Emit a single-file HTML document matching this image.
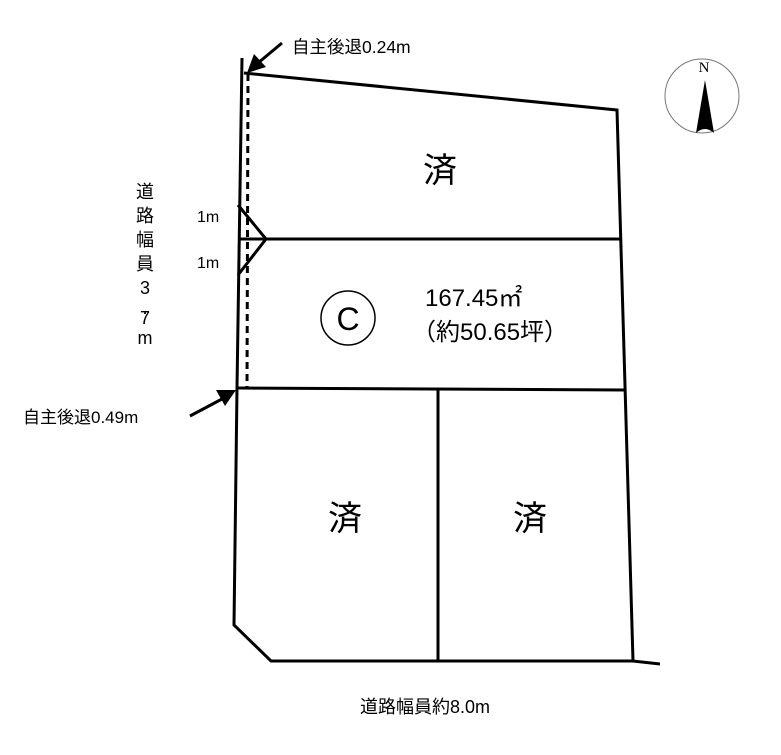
<!DOCTYPE html>
<html><head><meta charset="utf-8"><style>
body{margin:0;background:#fff;}
svg text{font-family:"Liberation Sans","Noto Sans CJK JP",sans-serif;fill:#000;}
</style></head><body>
<svg width="781" height="750" viewBox="0 0 781 750" xmlns="http://www.w3.org/2000/svg">
<g stroke="#000" stroke-width="3" fill="none" stroke-linejoin="miter">
<polyline points="242,58 237,388 234,625 271,661 633,661 660,664"/>
<polyline points="244,73 617,110 633,661"/>
<line x1="238" y1="239" x2="622" y2="239"/>
<line x1="237" y1="388" x2="626" y2="390"/>
<line x1="438" y1="390" x2="438" y2="661"/>
<polyline points="238,205 266,239 238,275"/>
<line x1="248" y1="74" x2="247" y2="387" stroke-dasharray="7,5"/>
<line x1="282" y1="43" x2="258" y2="63"/>
<line x1="190" y1="416" x2="222" y2="399"/>
</g>
<polygon points="247,73 266,67 254,54" fill="#000"/>
<polygon points="236,390 216,390 225,406" fill="#000"/>
<circle cx="702" cy="96" r="37" fill="none" stroke="#777" stroke-width="1"/>
<text x="704" y="72" font-size="15" text-anchor="middle" style="font-family:'Liberation Serif',serif">N</text>
<path d="M705,80 L696,133 Q705,125 714,133 Z" fill="#000"/>
<text x="292" y="53" font-size="17.5">自主後退0.24m</text>
<text x="23" y="423" font-size="17">自主後退0.49m</text>
<text x="197" y="222" font-size="16">1m</text>
<text x="197" y="268" font-size="16">1m</text>
<g font-size="18" text-anchor="middle">
<text x="145" y="198">道</text><text x="145" y="222">路</text><text x="145" y="246">幅</text><text x="145" y="270">員</text><text x="145" y="294">3</text><text x="145" y="314">.</text><text x="145" y="324">7</text><text x="145" y="344">m</text>
</g>
<circle cx="348" cy="318" r="27" fill="none" stroke="#000" stroke-width="1.5"/>
<text x="348" y="330" font-size="32" text-anchor="middle">C</text>
<text x="440" y="182" font-size="34" text-anchor="middle">済</text>
<text x="345" y="530" font-size="34" text-anchor="middle">済</text>
<text x="530" y="530" font-size="34" text-anchor="middle">済</text>
<text x="425" y="306" font-size="24">167.45㎡</text>
<text x="412" y="340" font-size="24">（約50.65坪）</text>
<text x="360" y="713" font-size="18">道路幅員約8.0m</text>
</svg>
</body></html>
